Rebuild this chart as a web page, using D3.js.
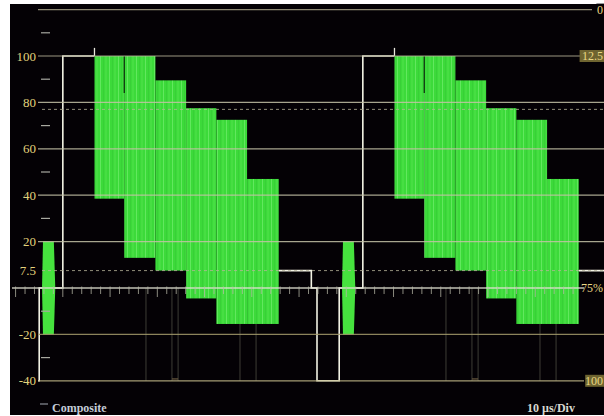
<!DOCTYPE html>
<html>
<head>
<meta charset="utf-8">
<script src="https://cdn.jsdelivr.net/npm/d3@7"></script>
<style>
  html, body { margin: 0; padding: 0; background: #fff; }
  svg { display: block; }
</style>
</head>
<body>
<script>
// Graticule (IRE units)
const majorIRE = [120, 100, 80, 60, 40, 20, 0, -20, -40];
const minorIRE = [110, 90, 70, 50, 30, -10, -30];
const dashedIRE = [77, 7.5];
const leftLabelIRE = [100, 80, 60, 40, 20, 7.5, -20, -40];
const leftLabels = ["100", "80", "60", "40", "20", "7.5", "-20", "-40"];
const rightLabelIRE = [120, 100, 0, -40];
const rightLabels = ["0", "12.5", "75%", "100"];

// Line timing (µs from the sync leading edge)
const linePeriod = 63.5;
const lineStarts = [0, 63.5];
const syncWidth = 4.7;
const syncTip = -40;
const burstT = [5.3, 5.5, 7.8, 8.1];
const burstAmp = [0, 20, 20, 0];
const segEdges = [9.7, 16.4, 22.7, 29.3, 35.8, 42.2, 48.7, 55.4];
const setupEnd = 62.3;
const setupLevel = 7.5;

// 75% colour bars: white reference, then the six chroma bars
const whiteLevel = 100;
const barNames = ["Yellow", "Cyan", "Green", "Magenta", "Red", "Blue"];
const barPeak = [100, 100, 89.5, 77.5, 72.5, 47];
const barTrough = [38.5, 13, 7.5, -4.5, -15.5, -15.5];

// Faint traces from other lines in the field (µs within a line)
const ghostT = [27.3, 32.8, 34.1, 47.2, 50.6];

// Time-axis ticks on the blanking line
const tickOrigin = 19.7;
const tickStep = 2;

const W = 604, H = 416;
const svg = d3.select("body").append("svg").attr("width", W).attr("height", H);

const x = d3.scaleLinear().domain([0, linePeriod]).range([17, 317]);
const y = d3.scaleLinear().domain([-40, 100]).range([380.8, 56]);

const plotL = 38, plotR = 604;

svg.append("rect").attr("x", 10).attr("y", 4).attr("width", W - 10).attr("height", 411)
  .attr("fill", "#040105");

const defs = svg.append("defs");
defs.append("clipPath").attr("id", "plot")
  .append("rect").attr("x", plotL).attr("y", 4).attr("width", plotR - plotL).attr("height", 400);

const pat = defs.append("pattern").attr("id", "chroma")
  .attr("patternUnits", "userSpaceOnUse").attr("width", 9).attr("height", 12);
pat.append("rect").attr("width", 9).attr("height", 12).attr("fill", "#3cda3a");
pat.append("rect").attr("x", 1).attr("width", 1).attr("height", 12).attr("fill", "#7cf276").attr("opacity", 0.6);
pat.append("rect").attr("x", 4).attr("width", 0.8).attr("height", 12).attr("fill", "#30c030").attr("opacity", 0.5);
pat.append("rect").attr("x", 6.5).attr("width", 1).attr("height", 12).attr("fill", "#66ea60").attr("opacity", 0.5);

const trace = svg.append("g").attr("clip-path", "url(#plot)");

// faint traces
lineStarts.forEach(s => {
  ghostT.forEach(t => {
    trace.append("line")
      .attr("x1", x(s + t)).attr("x2", x(s + t))
      .attr("y1", y(0)).attr("y2", y(syncTip))
      .attr("stroke", "#55554a").attr("stroke-width", 0.9).attr("opacity", 0.8);
  });
  trace.append("line")
    .attr("x1", x(s + ghostT[1])).attr("x2", x(s + ghostT[2]))
    .attr("y1", y(syncTip + 0.8)).attr("y2", y(syncTip + 0.8))
    .attr("stroke", "#6a5a40").attr("stroke-width", 1.2);
});

// luma trace (hidden under the chroma bars, so broken there)
const pts = [];
lineStarts.forEach(s => {
  pts.push([s, syncTip], [s + syncWidth, syncTip], [s + syncWidth, 0],
           [s + segEdges[0], 0], [s + segEdges[0], whiteLevel], [s + segEdges[1], whiteLevel], null);
  pts.push([s + segEdges[7], setupLevel], [s + setupEnd, setupLevel], [s + setupEnd, 0], [s + linePeriod, 0]);
});
const line = d3.line().defined(d => d !== null).x(d => x(d[0])).y(d => y(d[1]));
trace.append("path").attr("d", line(pts))
  .attr("fill", "none").attr("stroke", "#f2f2e4").attr("stroke-width", 1.6)
  .attr("stroke-linejoin", "miter");

// overshoot at the end of the white bar
lineStarts.forEach(s => {
  trace.append("line")
    .attr("x1", x(s + segEdges[1])).attr("x2", x(s + segEdges[1]))
    .attr("y1", y(whiteLevel)).attr("y2", y(whiteLevel + 3.5))
    .attr("stroke", "#e8e8dc").attr("stroke-width", 1.3);
});

// colour burst
const burstArea = d3.area()
  .x(d => x(d[0])).y0(d => y(-d[1])).y1(d => y(d[1]));
lineStarts.forEach(s => {
  trace.append("path")
    .attr("d", burstArea(burstT.map((t, i) => [s + t, burstAmp[i]])))
    .attr("fill", "#46e23e");
});

// chroma bars
lineStarts.forEach(s => {
  barNames.forEach((n, i) => {
    const x0 = x(s + segEdges[i + 1]), x1 = x(s + segEdges[i + 2]);
    trace.append("rect")
      .attr("class", "bar " + n)
      .attr("x", x0).attr("width", x1 - x0)
      .attr("y", y(barPeak[i])).attr("height", y(barTrough[i]) - y(barPeak[i]))
      .attr("fill", "url(#chroma)");
  });
  // dark seam at the yellow/cyan transition
  trace.append("line")
    .attr("x1", x(s + segEdges[2])).attr("x2", x(s + segEdges[2]))
    .attr("y1", y(barPeak[0])).attr("y2", y(84))
    .attr("stroke", "#0a2a0a").attr("stroke-width", 1.2);
});

// graticule
const grat = svg.append("g");
majorIRE.forEach(v => {
  let x0 = plotL, x1 = plotR, col = "#c4c2a6";
  if (v === 0) { x0 = 12; x1 = 584; col = "#e2e2d4"; }
  if (v === 120) { x1 = 592; col = "#a8a288"; }
  if (v === 100) { x1 = 582; col = "#b8b498"; }
  if (v === -40) { x1 = 584; col = "#c0b888"; }
  if (v === -20) col = "#a49c6c";
  grat.append("line")
    .attr("x1", x0).attr("x2", x1).attr("y1", y(v)).attr("y2", y(v))
    .attr("stroke", col).attr("stroke-width", v === 0 ? 1.6 : 1.2).attr("opacity", 0.85);
});
dashedIRE.forEach(v => {
  grat.append("line")
    .attr("x1", plotL + 4).attr("x2", plotR).attr("y1", y(v)).attr("y2", y(v))
    .attr("stroke", "#b8b49a").attr("stroke-width", 1).attr("stroke-dasharray", "3,3")
    .attr("opacity", 0.8);
});
minorIRE.forEach(v => {
  grat.append("line")
    .attr("x1", 41).attr("x2", 50).attr("y1", y(v)).attr("y2", y(v))
    .attr("stroke", "#a8a8a0").attr("stroke-width", 1.2);
});

// time ticks along blanking
const tx = d3.range(-10, 51).map(k => ({ t: tickOrigin + k * tickStep, major: k % 5 === 0 }))
  .filter(d => x(d.t) >= 13 && x(d.t) <= 582);
grat.selectAll("line.tick").data(tx).join("line")
  .attr("class", "tick")
  .attr("x1", d => x(d.t)).attr("x2", d => x(d.t))
  .attr("y1", y(0) - 1.5).attr("y2", d => y(0) + (d.major ? 9 : 6))
  .attr("stroke", "#b8b8a8").attr("stroke-width", 1).attr("opacity", 0.75);

// scale labels
const serif = "'Liberation Serif', 'DejaVu Serif', serif";
svg.append("g").selectAll("text").data(leftLabels).join("text")
  .attr("x", 36).attr("y", (d, i) => y(leftLabelIRE[i]))
  .attr("dy", "0.35em").attr("text-anchor", "end")
  .attr("font-family", serif).attr("font-size", 13)
  .attr("fill", "#e2d27c").text(d => d);

const rl = svg.append("g");
rightLabels.forEach((t, i) => {
  const yy = y(rightLabelIRE[i]);
  const boxed = t === "12.5" || t === "100";
  const w = t.length * 5.6 + 1;
  rl.append("rect").attr("x", 604 - w - 1).attr("y", yy - 6).attr("width", w + 1).attr("height", 12)
    .attr("fill", boxed ? "#6e6430" : "#040105");
  rl.append("text").attr("x", 603).attr("y", yy).attr("dy", "0.35em")
    .attr("text-anchor", "end").attr("font-family", serif).attr("font-size", 12)
    .attr("fill", "#ead884").text(t);
});

// footer
svg.append("line").attr("x1", 40).attr("x2", 48).attr("y1", 404).attr("y2", 404)
  .attr("stroke", "#8a8e96").attr("stroke-width", 1.2);
svg.append("text").attr("x", 52).attr("y", 412)
  .attr("font-family", serif).attr("font-size", 12).attr("font-weight", "bold")
  .attr("fill", "#c4ccd8").text("Composite");
svg.append("text").attr("x", 527).attr("y", 412)
  .attr("font-family", serif).attr("font-size", 12).attr("font-weight", "bold")
  .attr("fill", "#d8d8d0").text("10 µs/Div");
</script>
</body>
</html>
